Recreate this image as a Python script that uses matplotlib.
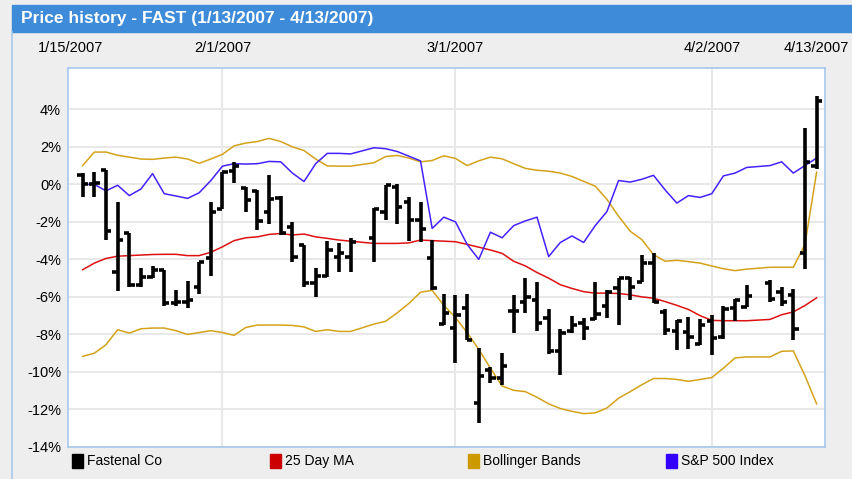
import numpy as np
import pandas as pd
import matplotlib
matplotlib.use("Agg")
from matplotlib import pyplot as plt
from matplotlib.patches import Rectangle
from matplotlib.lines import Line2D

plt.rcParams['font.family'] = ['Liberation Sans', 'DejaVu Sans']

# trading days (market closed 1/15, 2/19, 4/6)
holidays = ["2007-01-15", "2007-02-19", "2007-04-06"]
dates = [d for d in pd.bdate_range("2007-01-16", "2007-04-13")
         if d.strftime("%Y-%m-%d") not in holidays]

# Fastenal OHLC, % change
opens = [0.52, 0.0, 0.76, -4.69, -2.57, -5.36, -4.96, -4.57, -6.34, -6.25, -5.45, -3.95, -1.33,
         0.7, -0.2, -0.35, -1.45, -0.75, -2.27, -3.24, -5.27, -4.87, -3.86, -3.86,
         -2.88, -1.47, -0.14, -0.94, -1.91, -3.91, -7.45, -7.66, -6.6, -11.65, -9.9, -10.3, -6.74, -6.25,
         -6.16, -7.13, -8.9, -7.84, -7.4, -7.17, -6.51, -5.54, -5.0, -5.22, -4.21, -6.78, -7.8,
         -7.88, -8.5, -7.26, -8.14, -6.6, -6.55, -5.26, -5.75, -5.9, -3.66, 1.0]
highs = [0.6, 0.68, 0.76, -0.94, -2.57, -4.44, -4.34, -4.57, -5.63, -5.15, -4.12, -0.94, 0.65,
         1.2, -0.15, -0.3, 0.5, -0.64, -2.0, -3.24, -4.48, -3.03, -3.15, -2.88,
         -1.26, -0.02, 0.04, -0.67, -0.94, -2.97, -5.86, -5.9, -5.86, -8.73, -9.75, -8.99, -5.9, -5.0,
         -5.22, -6.64, -7.7, -7.04, -7.13, -5.22, -5.63, -5.0, -4.95, -3.77, -3.68, -6.64, -7.22,
         -7.08, -7.17, -6.99, -6.46, -6.11, -5.36, -5.08, -5.49, -5.58, 3.01, 4.69]
lows = [-0.68, -0.68, -2.97, -5.68, -5.45, -5.45, -5.0, -6.46, -6.51, -6.57, -5.86, -4.87, -1.33,
        0.05, -1.5, -2.45, -2.1, -2.7, -4.16, -5.45, -5.98, -4.92, -4.65, -4.65,
        -4.16, -1.91, -2.09, -3.03, -3.1, -5.63, -7.5, -9.52, -8.28, -12.71, -10.58, -10.67, -7.93, -6.87,
        -7.84, -9.04, -10.14, -7.93, -8.28, -7.22, -7.13, -7.49, -6.16, -5.22, -6.34, -8.02, -8.81,
        -8.76, -8.58, -9.08, -8.23, -7.26, -6.55, -6.28, -6.5, -8.32, -4.51, 0.8]
closes = [0.0, 0.05, -2.47, -2.97, -5.36, -4.92, -4.57, -6.34, -6.25, -6.16, -4.12, -1.47, 0.65,
          0.96, -0.85, -1.93, -0.8, -2.6, -3.86, -5.27, -4.87, -3.5, -3.68, -3.06,
          -1.33, -0.05, -1.2, -1.91, -2.39, -5.54, -6.87, -6.96, -8.28, -10.23, -10.3, -9.7, -6.74, -5.98,
          -7.4, -8.9, -7.93, -7.49, -7.66, -6.9, -5.72, -5.0, -5.45, -4.21, -6.25, -7.75, -7.3,
          -8.14, -7.52, -8.19, -6.67, -6.19, -5.96, -6.1, -6.28, -7.73, 1.19, 4.42]

ma25 = [-4.55, -4.2, -3.95, -3.83, -3.8, -3.77, -3.74, -3.73, -3.73, -3.8, -3.8, -3.62, -3.33,
        -3.0, -2.85, -2.8, -2.67, -2.62, -2.7, -2.65, -2.8, -2.88, -2.97, -3.03,
        -3.15, -3.15, -3.15, -3.12, -2.97, -3.0, -3.03, -3.06, -3.2, -3.35, -3.5, -3.68, -4.1, -4.35,
        -4.7, -5.0, -5.35, -5.55, -5.72, -5.8, -5.8, -5.82, -5.89, -6.0, -6.07, -6.25, -6.45,
        -6.67, -7.0, -7.25, -7.27, -7.27, -7.27, -7.2, -6.95, -6.8, -6.46, -6.05]
upper = [1.0, 1.72, 1.72, 1.55, 1.45, 1.35, 1.33, 1.4, 1.45, 1.35, 1.12, 1.35, 1.6,
         2.05, 2.2, 2.28, 2.45, 2.28, 2.0, 1.8, 1.35, 0.98, 0.97, 0.97,
         1.15, 1.48, 1.54, 1.4, 1.2, 1.27, 1.52, 1.38, 1.0, 1.25, 1.45, 1.36, 1.1, 0.85,
         0.75, 0.7, 0.6, 0.42, 0.16, -0.1, -0.8, -1.7, -2.5, -2.95, -3.75, -4.1, -4.05,
         -4.12, -4.2, -4.35, -4.5, -4.6, -4.52, -4.42, -4.42, -4.42, -3.2, 0.65]
lower = [-9.17, -9.0, -8.55, -7.75, -7.93, -7.7, -7.66, -7.66, -7.8, -8.0, -7.9, -7.8, -7.9,
         -8.05, -7.63, -7.5, -7.5, -7.5, -7.52, -7.6, -7.84, -7.75, -7.84, -7.84,
         -7.45, -7.3, -6.85, -6.35, -5.75, -5.65, -6.45, -7.1, -7.9, -8.8, -9.8, -10.75, -10.98, -11.05,
         -11.35, -11.7, -11.95, -12.1, -12.22, -12.18, -11.92, -11.4, -11.05, -10.68, -10.35, -10.35, -10.4,
         -10.5, -10.4, -10.3, -9.8, -9.25, -9.2, -9.2, -8.9, -8.88, -10.2, -11.7]
sp500 = [0.0, 0.0, -0.35, -0.05, -0.6, -0.25, 0.57, -0.5, -0.62, -0.75, -0.45, 0.2, 0.97,
         1.1, 1.08, 1.1, 1.22, 1.2, 0.6, 0.15, 1.1, 1.65, 1.65, 1.62,
         1.95, 1.9, 1.75, 1.5, 1.25, -2.35, -1.75, -2.0, -3.2, -4.0, -2.55, -2.85, -2.2, -1.95,
         -1.75, -3.85, -3.1, -2.75, -3.1, -2.2, -1.45, 0.2, 0.12, 0.27, 0.48, -0.3, -1.0,
         -0.6, -0.7, -0.5, 0.45, 0.6, 0.9, 1.0, 1.2, 0.6, 1.0, 1.4]

tick_dates = ["2007-01-15", "2007-02-01", "2007-03-01", "2007-04-02", "2007-04-13"]
tick_labels = ["1/15/2007", "2/1/2007", "3/1/2007", "4/2/2007", "4/13/2007"]

legend_names = ["Fastenal Co", "25 Day MA", "Bollinger Bands", "S&P 500 Index"]
legend_colors = ["#000000", "#cc0000", "#cc9900", "#3300ff"]

# x = weekday count from 1/15 (weekends collapsed, holidays leave gaps)
x = np.array([np.busday_count("2007-01-15", d.strftime("%Y-%m-%d")) for d in dates])
tx = [np.busday_count("2007-01-15", d) for d in tick_dates]

W, H = 853, 479
fig = plt.figure(figsize=(W / 100, H / 100), dpi=100, facecolor="#eeeeee")

# title bar
fig.add_artist(Rectangle((12 / W, 1 - 32 / H), (W - 12) / W, 27 / H,
                         transform=fig.transFigure, color="#3d8bd9", zorder=0))
fig.add_artist(Line2D([12.5 / W, 12.5 / W], [0, 1 - 32 / H], transform=fig.transFigure,
                      color="#a9c9ec", lw=1.2))
fig.text(21 / W, 1 - 18.5 / H, "Price history - FAST (1/13/2007 - 4/13/2007)",
         color="white", fontsize=12.5, fontweight="bold", va="center", ha="left")

ax = fig.add_axes([68 / W, 1 - 447 / H, 757 / W, 379 / H])
ax.set_facecolor("white")
for s in ax.spines.values():
    s.set_color("#a8c8ec")
    s.set_linewidth(1.2)

ax.plot(x, upper, color="#d4a21a", lw=1.1, zorder=2)
ax.plot(x, lower, color="#d4a21a", lw=1.1, zorder=2)
ax.plot(x, ma25, color="#dd1111", lw=1.1, zorder=2)
ax.plot(x, sp500, color="#4422ff", lw=1.1, zorder=2)

bw = 2.6
tl = 0.45
ax.vlines(x, lows, highs, color="black", lw=bw, zorder=3, capstyle="butt")
ax.hlines(opens, x - tl, x, color="black", lw=bw, zorder=3)
ax.hlines(closes, x, x + tl, color="black", lw=bw, zorder=3)

ax.set_xlim(-0.26, 64.72)
ax.set_ylim(-14, 6.2)
ax.set_yticks(np.arange(-14, 5, 2))
ax.set_yticklabels(["%d%%" % v for v in np.arange(-14, 5, 2)])
ax.set_xticks(tx)
ax.set_xticklabels(tick_labels)
ax.xaxis.tick_top()
ax.tick_params(axis="both", length=0, labelsize=10.5, colors="black")
ax.tick_params(axis="x", pad=9)
ax.tick_params(axis="y", pad=5)

ax.grid(axis="y", color="#e8e8e8", lw=1.5, zorder=0)
for t in tx[1:4]:
    ax.axvline(t, color="#e8e8e8", lw=1.5, zorder=0)

# legend
for i, (name, c) in enumerate(zip(legend_names, legend_colors)):
    x0 = 72 + i * 198
    fig.add_artist(Rectangle((x0 / W, 1 - 468 / H), 11 / W, 14 / H,
                             transform=fig.transFigure, color=c))
    fig.text((x0 + 15) / W, 1 - 461 / H, name, fontsize=10, va="center", ha="left")

fig.savefig("out.png", dpi=100, facecolor=fig.get_facecolor())
